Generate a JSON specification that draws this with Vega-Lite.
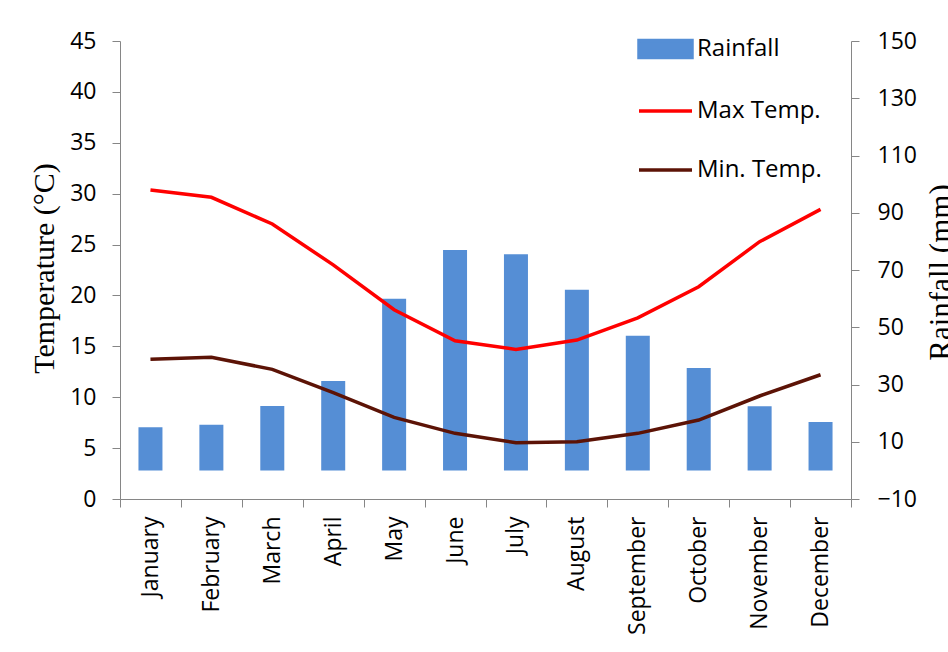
{
  "$schema": "https://vega.github.io/schema/vega-lite/v6.json",
  "width": 731,
  "height": 458,
  "autosize": {"type": "none"},
  "padding": {"left": 120, "top": 41, "right": 97, "bottom": 153},
  "background": "white",
  "config": {
    "view": {"stroke": null},
    "font": "Open Sans",
    "axis": {
      "grid": false,
      "domainColor": "#868686",
      "tickColor": "#868686",
      "domainWidth": 1,
      "tickWidth": 1,
      "labelColor": "#000000",
      "labelFont": "Open Sans",
      "labelFontSize": 23,
      "titleColor": "#000000",
      "titleFont": "Liberation Serif",
      "titleFontWeight": "normal",
      "titleFontSize": 30
    },
    "legend": {"title": null}
  },
  "datasets": {
    "rainfall": [
      {"month": "January", "rain": 15.1},
      {"month": "February", "rain": 15.9},
      {"month": "March", "rain": 22.5},
      {"month": "April", "rain": 31.2},
      {"month": "May", "rain": 60.0},
      {"month": "June", "rain": 77.0},
      {"month": "July", "rain": 75.5},
      {"month": "August", "rain": 63.1},
      {"month": "September", "rain": 47.0},
      {"month": "October", "rain": 35.8},
      {"month": "November", "rain": 22.4},
      {"month": "December", "rain": 16.9}
    ],
    "temperature": [
      {"month": "January", "series": "Max Temp.", "temp": 30.36},
      {"month": "February", "series": "Max Temp.", "temp": 29.64},
      {"month": "March", "series": "Max Temp.", "temp": 27.02},
      {"month": "April", "series": "Max Temp.", "temp": 23.0},
      {"month": "May", "series": "Max Temp.", "temp": 18.6},
      {"month": "June", "series": "Max Temp.", "temp": 15.55},
      {"month": "July", "series": "Max Temp.", "temp": 14.7},
      {"month": "August", "series": "Max Temp.", "temp": 15.62},
      {"month": "September", "series": "Max Temp.", "temp": 17.8},
      {"month": "October", "series": "Max Temp.", "temp": 20.86},
      {"month": "November", "series": "Max Temp.", "temp": 25.28},
      {"month": "December", "series": "Max Temp.", "temp": 28.46},
      {"month": "January", "series": "Min. Temp.", "temp": 13.72},
      {"month": "February", "series": "Min. Temp.", "temp": 13.92},
      {"month": "March", "series": "Min. Temp.", "temp": 12.74},
      {"month": "April", "series": "Min. Temp.", "temp": 10.45},
      {"month": "May", "series": "Min. Temp.", "temp": 8.02},
      {"month": "June", "series": "Min. Temp.", "temp": 6.45},
      {"month": "July", "series": "Min. Temp.", "temp": 5.53},
      {"month": "August", "series": "Min. Temp.", "temp": 5.63},
      {"month": "September", "series": "Min. Temp.", "temp": 6.45},
      {"month": "October", "series": "Min. Temp.", "temp": 7.76},
      {"month": "November", "series": "Min. Temp.", "temp": 10.12},
      {"month": "December", "series": "Min. Temp.", "temp": 12.21}
    ]
  },
  "encoding": {
    "x": {
      "field": "month",
      "type": "nominal",
      "sort": ["January","February","March","April","May","June","July","August","September","October","November","December"],
      "scale": {"paddingInner": 0, "paddingOuter": 0},
      "axis": {
        "title": null,
        "labelAngle": -90,
        "labelAlign": "right",
        "labelBaseline": "middle",
        "tickBand": "extent",
        "tickSize": 8,
        "labelPadding": 9
      }
    }
  },
  "layer": [
    {
      "data": {"name": "rainfall"},
      "mark": {"type": "bar", "size": 24, "color": "#558ED5"},
      "encoding": {
        "y": {
          "field": "rain",
          "type": "quantitative",
          "scale": {"domain": [-10, 150], "nice": false, "zero": false},
          "axis": {
            "orient": "right",
            "values": [-10, 10, 30, 50, 70, 90, 110, 130, 150],
            "title": "Rainfall (mm)",
            "titleFontSize": 31,
            "titleAngle": -90,
            "titleAlign": "center",
            "titleBaseline": "alphabetic",
            "titleX": 99,
            "titleY": 231,
            "tickSize": 8,
            "labelPadding": 18
          }
        },
        "y2": {"datum": 0},
        "color": {
          "datum": "Rainfall",
          "type": "nominal",
          "scale": {
            "domain": ["Rainfall", "Max Temp.", "Min. Temp."],
            "range": ["#558ED5", "#FF0000", "#5C1306"]
          },
          "legend": {
            "title": null,
            "orient": "none",
            "legendX": 517,
            "legendY": -20.5,
            "padding": 0,
            "symbolSize": 2809,
            "symbolStrokeWidth": 3.5,
            "labelFont": "Open Sans",
            "labelFontSize": 24,
            "labelColor": "#000000",
            "labelOffset": 3,
            "rowPadding": 18,
            "encode": {
              "symbols": {
                "update": {
                  "shape": {"signal": "datum.value === 'Rainfall' ? 'M-1,-0.32H1V0.32H-1Z' : 'M-1,0H1'"},
                  "fill": {"signal": "datum.value === 'Rainfall' ? '#558ED5' : 'transparent'"},
                  "stroke": {"signal": "datum.value === 'Rainfall' ? 'transparent' : (datum.value === 'Max Temp.' ? '#FF0000' : '#5C1306')"},
                  "strokeWidth": {"value": 3.5},
                  "opacity": {"value": 1}
                }
              }
            }
          }
        }
      }
    },
    {
      "data": {"name": "temperature"},
      "mark": {"type": "line", "strokeWidth": 3.5},
      "encoding": {
        "y": {
          "field": "temp",
          "type": "quantitative",
          "scale": {"domain": [0, 45], "nice": false},
          "axis": {
            "orient": "left",
            "values": [0, 5, 10, 15, 20, 25, 30, 35, 40, 45],
            "title": "Temperature (°C)",
            "titleAngle": -90,
            "titleAlign": "center",
            "titleBaseline": "alphabetic",
            "titleX": -67,
            "titleY": 227,
            "tickSize": 8,
            "labelPadding": 16
          }
        },
        "color": {"field": "series", "type": "nominal", "legend": {"title": null}},
        "detail": {"field": "series"}
      }
    }
  ],
  "resolve": {"scale": {"y": "independent"}, "axis": {"y": "independent"}}
}
